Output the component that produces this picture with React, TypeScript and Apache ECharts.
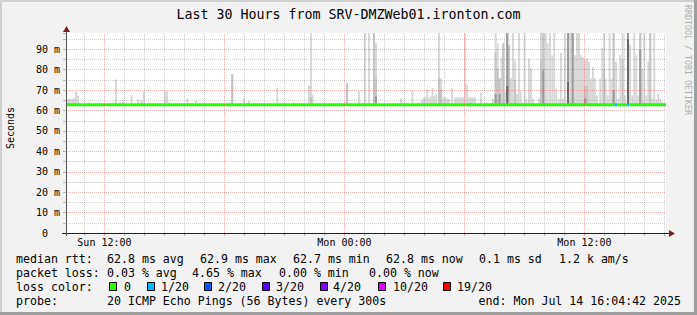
import React, { useEffect, useRef } from 'react';
import * as echarts from 'echarts';

const TITLE = 'Last 30 Hours from SRV-DMZWeb01.ironton.com';
// x axis: hours since Sun 00:00
const START_H = 10 + 4 / 60 + 42 / 3600; // Sun 10:04:42
const END_H = START_H + 30; // Mon 16:04:42
const Y_MAX = 98; // ms

const xLabelValues = [12, 24, 36];
const xLabelTexts = ['Sun 12:00', 'Mon 00:00', 'Mon 12:00'];
const majorHours = [12, 18, 24, 30, 36];
const minorHours = [11, 13, 14, 15, 16, 17, 19, 20, 21, 22, 23, 25, 26, 27, 28, 29, 31, 32, 33, 34, 35, 37, 38, 39, 40];
const hourTicks = [11, 12, 13, 14, 15, 16, 17, 18, 19, 20, 21, 22, 23, 24, 25, 26, 27, 28, 29, 30, 31, 32, 33, 34, 35, 36, 37, 38, 39, 40];
const majorMs = [10, 20, 30, 40, 50, 60, 70, 80, 90];
const minorMs = [5, 15, 25, 35, 45, 55, 65, 75, 85, 95];

const MEDIAN_MS = 62.8;
const SMOKE_BASE = 62.7;
// median segments: [fromHour, toHour, ms, lossIndex]
const medianSegments = [
  [START_H, 37.51, MEDIAN_MS, 0],
  [37.51, 37.64, MEDIAN_MS, 1],
  [37.64, 38.14, MEDIAN_MS, 0],
  [38.14, 38.24, MEDIAN_MS, 1],
  [38.24, END_H, MEDIAN_MS, 0],
];

// smoke: [hour, top ms]
const smokeLight = [
  [10.18, 65.7], [10.28, 65.7], [10.38, 65.7], [10.48, 66.2], [10.58, 69.3], [10.68, 67.3], [10.75, 63.9],
  [11.23, 64], [12.45, 64], [12.58, 75.2], [12.78, 64.4], [12.93, 65.2], [13.36, 67.5], [13.68, 65.5], [13.85, 65.2], [13.97, 69.5],
  [15.03, 69.5], [15.13, 69.5], [15.23, 64], [16.14, 65.9], [16.58, 64.6],
  [18.3, 64], [18.39, 77.8], [18.98, 65.9], [19.23, 64.6], [20.64, 71.1], [21.48, 64], [22.23, 72.4], [22.33, 99], [22.41, 67.8],
  [24.03, 64], [24.13, 73.2], [24.73, 69.5], [24.98, 64],
  [25.03, 99], [25.23, 99], [25.48, 99], [25.58, 93], [26.83, 65.9], [27.4, 69.8], [27.74, 64], [27.88, 65.5], [27.98, 66.4],
  [28.08, 66.4], [28.14, 70.6], [28.23, 66.4], [28.33, 67], [28.41, 71.1], [28.49, 67], [28.59, 68.2], [28.73, 99], [28.83, 75.7],
  [28.93, 66.4], [29.03, 66.4], [29.13, 65.9], [29.23, 65.9], [29.38, 70.8], [29.53, 66.4], [29.63, 66.4], [29.73, 66.4],
  [29.83, 66.4], [29.93, 66.4], [30.03, 99], [30.13, 72.7], [30.23, 66.4], [30.33, 66.4], [30.43, 66.4], [30.53, 66.4],
  [30.83, 68.8], [31.13, 64], [31.43, 65.9], [31.56, 99], [31.66, 93], [31.76, 75.7], [31.86, 86.1], [31.94, 93], [32.04, 69.2],
  [32.14, 99], [32.23, 92], [32.33, 75.7], [32.43, 99], [32.53, 84.5],
  [32.63, 68.2], [32.73, 99], [32.81, 69.2], [33.01, 99], [33.09, 65.9], [33.23, 85.5], [33.33, 80.6], [33.43, 65.9],
  [33.73, 65.9], [33.83, 99], [33.94, 99], [34.06, 99], [34.16, 93], [34.28, 99], [34.39, 87.1], [34.49, 99], [34.59, 70.8],
  [34.71, 65.9], [34.83, 88.4], [34.93, 65.9], [35.03, 99], [35.18, 99], [35.29, 99], [35.41, 99], [35.53, 87.1], [35.63, 99],
  [35.73, 99], [35.83, 87.1], [35.93, 86.1], [36.03, 84.5], [36.13, 85.5], [36.23, 83.9], [36.33, 75.7], [36.43, 81.3],
  [36.53, 75.7], [36.63, 67.5], [36.79, 75.7], [36.89, 90.7], [36.98, 99], [37.06, 75.7], [37.16, 67.5], [37.26, 99],
  [37.36, 75.7], [37.46, 99], [37.58, 83.9], [37.69, 65.9], [37.79, 87.1], [37.91, 99], [38.04, 67.5], [38.18, 99],
  [38.29, 92], [38.39, 67.5], [38.49, 99], [38.59, 87.1], [38.69, 67.5], [38.79, 99], [38.89, 80.6], [38.99, 99],
  [39.09, 67.5], [39.19, 83.9], [39.29, 99], [39.39, 65.9], [39.49, 99], [39.59, 65.5], [39.69, 68.2], [39.78, 65.9], [39.86, 64.6],
];
const smokeMedium = [
  [18.39, 77.8], [22.33, 66.5], [24.13, 73.2], [25.48, 99], [25.58, 75.7], [28.73, 75.7], [28.83, 70],
  [31.56, 88.4], [31.66, 80.6], [31.76, 75.7], [31.94, 93], [32.14, 99], [32.23, 92], [32.53, 75],
  [33.83, 84.5], [33.94, 99], [35.18, 99], [35.41, 99], [36.03, 72], [36.13, 72], [36.98, 80],
  [37.46, 99], [37.91, 85], [38.18, 99], [38.79, 99], [39.29, 99],
];
const smokeDark = [
  [25.58, 67], [31.56, 68], [31.76, 68], [32.14, 99], [33.94, 80], [35.18, 99], [35.41, 99],
  [36.03, 66], [37.46, 70], [38.18, 99], [38.79, 90],
];
const smokeDeep = [
  [32.14, 72], [35.18, 74], [38.18, 95],
];

const LOSS_COLORS = ['#26ff00', '#00b8ff', '#0059ff', '#5e00ff', '#7e00ff', '#dd00ff', '#ff0000'];
const LOSS_LABELS = ['0', '1/20', '2/20', '3/20', '4/20', '10/20', '19/20'];

const rttTexts = ['median rtt:', '62.8 ms avg', '62.9 ms max', '62.7 ms min', '62.8 ms now', '0.1 ms sd', '1.2 k am/s'];
const lossTexts = ['packet loss:', '0.03 % avg', '4.65 % max', '0.00 % min', '0.00 % now'];
const probeTexts = ['probe:', '20 ICMP Echo Pings (56 Bytes) every 300s'];
const END_TEXT = 'end: Mon Jul 14 16:04:42 2025';

const MONO = "'DejaVu Sans Mono', monospace";
const BAR_W = 0.1;

const smokeSeries = (data: number[][], color: string, z: number) => ({
  type: 'custom',
  clip: true,
  z,
  silent: true,
  encode: { x: 0, y: 1 },
  data,
  renderItem: (_p: any, api: any) => {
    const t = api.value(0);
    const top = api.value(1);
    const a = api.coord([t - BAR_W / 2, top]);
    const b = api.coord([t + BAR_W / 2, SMOKE_BASE]);
    return {
      type: 'rect',
      shape: { x: a[0], y: a[1], width: b[0] - a[0], height: b[1] - a[1] },
      style: { fill: color },
    };
  },
});

export default function App() {
  const ref = useRef<HTMLDivElement>(null);
  useEffect(() => {
    if (!ref.current) return;
    const chart = echarts.init(ref.current, undefined, { renderer: 'svg' });

    const txt = (text: string, x: number, y: number, extra: any = {}) => ({
      type: 'text',
      x,
      y,
      silent: true,
      style: { text, fontFamily: MONO, fontSize: 11.6, fill: '#000', verticalAlign: 'middle', align: 'left', ...extra },
    });

    const rttX = [16, 107, 200, 293, 386, 479, 559];
    const lossX = [16, 107, 192, 279, 369];
    const boxX = [109, 147, 204, 262, 320, 378, 443];
    const boxTextX = [124, 161, 218, 276, 333, 393, 457];
    const rowY = [259, 273, 287, 301];

    const graphics: any[] = [
      // frame
      { type: 'line', shape: { x1: 0, y1: 1, x2: 697, y2: 1 }, style: { stroke: '#cfcfcf', lineWidth: 2 }, silent: true },
      { type: 'line', shape: { x1: 1, y1: 0, x2: 1, y2: 315 }, style: { stroke: '#cfcfcf', lineWidth: 2 }, silent: true },
      { type: 'line', shape: { x1: 0, y1: 313.5, x2: 697, y2: 313.5 }, style: { stroke: '#9e9e9e', lineWidth: 3 }, silent: true },
      { type: 'line', shape: { x1: 695.5, y1: 0, x2: 695.5, y2: 315 }, style: { stroke: '#9e9e9e', lineWidth: 3 }, silent: true },
      // axis extensions + arrows
      { type: 'line', shape: { x1: 62, y1: 233.5, x2: 670, y2: 233.5 }, style: { stroke: '#1f1f1f', lineWidth: 1 }, silent: true, z: 50 },
      { type: 'line', shape: { x1: 66.5, y1: 236, x2: 66.5, y2: 29 }, style: { stroke: '#555', lineWidth: 1 }, silent: true, z: 50 },
      { type: 'polygon', shape: { points: [[669, 230], [675, 233.5], [669, 237]] }, style: { fill: '#801f1f' }, silent: true, z: 51 },
      { type: 'polygon', shape: { points: [[63, 32], [66.5, 26], [70, 32]] }, style: { fill: '#801f1f' }, silent: true, z: 51 },
      // side labels
      txt('Seconds', 10, 128, { fontSize: 10, align: 'center' }),
      txt('RRDTOOL / TOBI OETIKER', 688, 60, { fontSize: 8.3, align: 'center', fill: '#b0b0b0' }),
      // title
      txt(TITLE, 348.5, 14, { fontSize: 13.3, align: 'center' }),
    ];
    // rotate side labels
    graphics[8].rotation = Math.PI / 2;
    graphics[9].rotation = -Math.PI / 2;

    rttTexts.forEach((t, i) => graphics.push(txt(t, rttX[i], rowY[0])));
    lossTexts.forEach((t, i) => graphics.push(txt(t, lossX[i], rowY[1])));
    graphics.push(txt('loss color:', 16, rowY[2]));
    LOSS_LABELS.forEach((t, i) => {
      graphics.push({
        type: 'rect',
        shape: { x: boxX[i] + 0.5, y: 282.5, width: 7, height: 8 },
        style: { fill: LOSS_COLORS[i], stroke: '#000', lineWidth: 1 },
        silent: true,
      });
      graphics.push(txt(t, boxTextX[i], rowY[2]));
    });
    graphics.push(txt(probeTexts[0], 16, rowY[3]));
    graphics.push(txt(probeTexts[1], 107, rowY[3]));
    graphics.push(txt(END_TEXT, 681, rowY[3], { align: 'right' }));

    const minorStyle = { color: 'rgba(143,143,143,0.42)', width: 1, type: [1, 1] };
    const majorStyle = { color: 'rgba(222,79,79,0.42)', width: 1, type: [1, 1] };
    const gridLines = [
      ...minorHours.map((h) => ({ xAxis: h, lineStyle: minorStyle })),
      ...majorHours.map((h) => ({ xAxis: h, lineStyle: majorStyle })),
      ...minorMs.map((v) => ({ yAxis: v, lineStyle: minorStyle })),
      ...majorMs.map((v) => ({ yAxis: v, lineStyle: majorStyle })),
    ];

    chart.setOption({
      animation: false,
      backgroundColor: '#f2f2f2',
      grid: {
        left: 66,
        top: 33,
        width: 600,
        height: 200,
        show: true,
        backgroundColor: '#ffffff',
        borderWidth: 0,
        containLabel: false,
        outerBoundsMode: 'none',
      },
      xAxis: {
        type: 'value',
        min: START_H,
        max: END_H,
        axisLine: { show: true, lineStyle: { color: '#1f1f1f', width: 1 } },
        axisTick: { show: true, customValues: hourTicks, length: 3, lineStyle: { color: 'rgba(143,143,143,0.6)' } },
        splitLine: { show: false },
        axisLabel: {
          customValues: xLabelValues,
          formatter: (v: number) => {
            const i = xLabelValues.indexOf(Math.round(v));
            return i >= 0 ? xLabelTexts[i] : '';
          },
          fontFamily: MONO,
          fontSize: 10,
          color: '#000',
          margin: 4,
        },
      },
      yAxis: {
        type: 'value',
        min: 0,
        max: Y_MAX,
        interval: 5,
        axisLine: { show: false },
        axisTick: { show: true, length: 3, lineStyle: { color: 'rgba(143,143,143,0.6)' } },
        splitLine: { show: false },
        axisLabel: {
          fontFamily: MONO,
          fontSize: 10,
          color: '#000',
          margin: 6,
          formatter: (v: number) => {
            if (v === 0) return '{z|0}';
            if (v % 10 === 0 && v < Y_MAX) return `${v} m`;
            return '';
          },
          rich: { z: { fontFamily: MONO, fontSize: 10, color: '#000', padding: [0, 12, 0, 0] } },
        },
      },
      series: [
        smokeSeries(smokeLight, '#d8d8d8', 2),
        smokeSeries(smokeMedium, '#c4c4c4', 3),
        smokeSeries(smokeDark, '#999999', 4),
        smokeSeries(smokeDeep, '#666666', 5),
        {
          type: 'custom',
          z: 6,
          silent: true,
          clip: true,
          encode: { x: [0, 1], y: 2 },
          data: medianSegments,
          renderItem: (_p: any, api: any) => {
            const a = api.coord([api.value(0), api.value(2)]);
            const b = api.coord([api.value(1), api.value(2)]);
            return {
              type: 'rect',
              shape: { x: a[0], y: a[1] - 1.5, width: b[0] - a[0], height: 3 },
              style: { fill: LOSS_COLORS[api.value(3)] },
            };
          },
          markLine: {
            silent: true,
            z: 10,
            symbol: ['none', 'none'],
            label: { show: false },
            animation: false,
            data: gridLines,
          },
        },
      ],
      graphic: graphics,
    });
    return () => chart.dispose();
  }, []);
  return <div ref={ref} style={{ position: 'absolute', left: 0, top: 0, width: 697, height: 315 }} />;
}
